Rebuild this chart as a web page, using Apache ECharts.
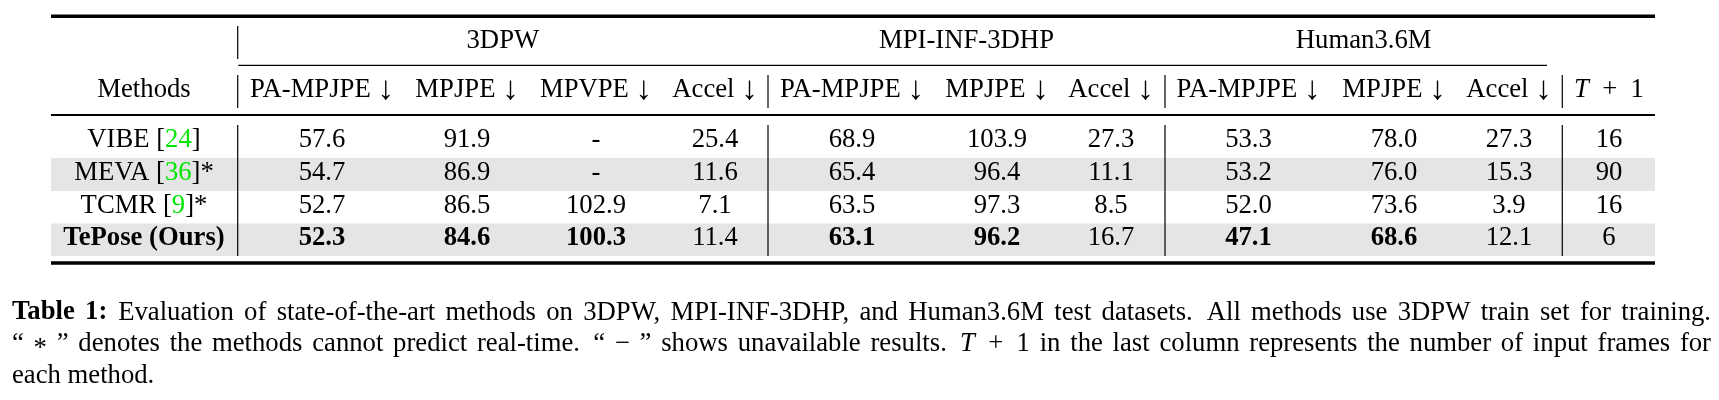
<!DOCTYPE html>
<html><head><meta charset="utf-8">
<script src="https://cdn.jsdelivr.net/npm/echarts@6/dist/echarts.min.js"></script>
<style>html,body{margin:0;padding:0;background:#fff;}#c{width:1719px;height:400px;}</style>
</head><body><div id="c"></div>
<script>
// ---------------- data ----------------
const datasets = ['3DPW', 'MPI-INF-3DHP', 'Human3.6M'];
const metricHeaders = ['PA-MPJPE', 'MPJPE', 'MPVPE', 'Accel', 'PA-MPJPE', 'MPJPE', 'Accel', 'PA-MPJPE', 'MPJPE', 'Accel'];
const methods = ['VIBE', 'MEVA', 'TCMR', 'TePose (Ours)'];
const citations = ['24', '36', '9', ''];
const notRealTime = [false, true, true, false];
const oursIndex = 3;
const pw3d_pa = [57.6, 54.7, 52.7, 52.3];
const pw3d_mpjpe = [91.9, 86.9, 86.5, 84.6];
const pw3d_mpvpe = [null, null, 102.9, 100.3];
const pw3d_accel = [25.4, 11.6, 7.1, 11.4];
const mpi_pa = [68.9, 65.4, 63.5, 63.1];
const mpi_mpjpe = [103.9, 96.4, 97.3, 96.2];
const mpi_accel = [27.3, 11.1, 8.5, 16.7];
const h36m_pa = [53.3, 53.2, 52.0, 47.1];
const h36m_mpjpe = [78.0, 76.0, 73.6, 68.6];
const h36m_accel = [27.3, 15.3, 3.9, 12.1];
const inputFrames = [16, 90, 16, 6];
const captionLine1 = 'Evaluation of state-of-the-art methods on 3DPW, MPI-INF-3DHP, and Human3.6M test datasets. All methods use 3DPW train set for training.';
const captionLine2a = 'denotes the methods cannot predict real-time.';
const captionLine2b = 'shows unavailable results.';
const captionLine2c = 'in the last column represents the number of input frames for';
const captionLine3 = 'each method.';

// ---------------- layout / style ----------------
const FAMILY = '"Liberation Serif", "Times New Roman", Times, serif';
const FS = 26.7;
const BASE_OFF = 0.305 * FS;            // canvas 'middle' -> alphabetic baseline
const GREEN = '#00e600';
const BAND = '#e5e5e5';
const TABLE_L = 51, TABLE_R = 1655;
const COL_X = [144, 322, 467, 596, 715, 852, 997, 1111, 1248.5, 1394, 1509, 1609];
const VLINE_X = [237.7, 768, 1165, 1562.3];
const HEAD1_BASE = 49.5, HEAD2_BASE = 98.5;
const ROW_TOP = [125, 158, 191, 223.5, 256];
const ROW_BASE = [148.3, 181.3, 213.8, 246.3];
const CAP_BASE = [320.7, 352.2, 384.5];
const CAP_L = 12, CAP_R = 1711;

const metricCols = [pw3d_pa, pw3d_mpjpe, pw3d_mpvpe, pw3d_accel, mpi_pa, mpi_mpjpe, mpi_accel, h36m_pa, h36m_mpjpe, h36m_accel];

// ---------------- cells ----------------
const cells = [];
datasets.forEach((d, i) => {
  const x = (VLINE_X[i] + VLINE_X[i + 1]) / 2;
  cells.push({ x, base: HEAD1_BASE, text: d });
});
cells.push({ x: COL_X[0], base: HEAD2_BASE, text: 'Methods' });
metricHeaders.forEach((h, i) => cells.push({ x: COL_X[i + 1], base: HEAD2_BASE, text: h + ' {a|↓}', rich: true }));
cells.push({ x: COL_X[11], base: HEAD2_BASE, text: '{i|T}\u2002+\u20021', rich: true });
methods.forEach((m, r) => {
  let t;
  if (citations[r]) t = m + ' [{g|' + citations[r] + '}]' + (notRealTime[r] ? '*' : '');
  else t = m;
  cells.push({ x: COL_X[0], base: ROW_BASE[r], text: t, rich: !!citations[r], bold: r === oursIndex });
  metricCols.forEach((col, c) => {
    const v = col[r];
    const isAccel = metricHeaders[c] === 'Accel';
    const vals = col.filter(a => a != null);
    const best = !isAccel && v != null && v === Math.min.apply(null, vals);
    cells.push({ x: COL_X[c + 1], base: ROW_BASE[r], text: v == null ? '-' : v.toFixed(1), bold: best });
  });
  cells.push({ x: COL_X[11], base: ROW_BASE[r], text: String(inputFrames[r]) });
});

function fontProps(bold, italic, size) {
  return { fontSize: size || FS, fontFamily: FAMILY, fontWeight: bold ? 'bold' : 'normal', fontStyle: italic ? 'italic' : 'normal' };
}

const richStyles = {
  g: Object.assign({ fill: GREEN }, fontProps(false, false)),
  i: Object.assign({ fill: '#000' }, fontProps(false, true)),
  a: Object.assign({ fill: '#000' }, fontProps(false, false, 33))
};

// ---------------- caption (justified) ----------------
const mctx = document.createElement('canvas').getContext('2d');
function fstr(s) { return (s.i ? 'italic ' : '') + (s.b ? 'bold ' : '') + FS + 'px ' + FAMILY; }
function words(str) { return str.split(' ').map(w => [{ t: w }]); }
const capLines = [
  { justify: true, tokens: [[{ t: 'Table', b: 1 }], [{ t: '1:', b: 1, gap: 1.05 }]].concat(words(captionLine1)) },
  { justify: true, tokens: [[{ t: '“' }], [{ t: '*', dy: 5 }], [{ t: '”' }]].concat(words(captionLine2a))
      .concat([[{ t: '“' }], [{ t: '−' }], [{ t: '”' }]]).concat(words(captionLine2b))
      .concat([[{ t: 'T', i: 1 }, { t: '\u2002+\u20021' }]]).concat(words(captionLine2c)) },
  { justify: false, tokens: words(captionLine3) }
];
const graphicEls = [];
capLines.forEach((ln, li) => {
  let sum = 0;
  ln.tokens.forEach(tok => { tok.w = 0; tok.forEach(s => { mctx.font = fstr(s); s.w = mctx.measureText(s.t).width; tok.w += s.w; }); sum += tok.w; });
  const weights = [];
  let wsum = 0;
  for (let k = 0; k < ln.tokens.length - 1; k++) {
    const lastSeg = ln.tokens[k][ln.tokens[k].length - 1];
    const wt = lastSeg.gap || (/[.]$/.test(lastSeg.t) && lastSeg.t.length > 2 ? 1.35 : 1);
    weights.push(wt); wsum += wt;
  }
  mctx.font = fstr({});
  const sp = mctx.measureText(' ').width;
  const unit = ln.justify ? (CAP_R - CAP_L - sum) / wsum : sp;
  let x = CAP_L;
  ln.tokens.forEach((tok, k) => {
    let sx = x;
    tok.forEach(s => {
      graphicEls.push({ type: 'text', x: sx, y: CAP_BASE[li] - BASE_OFF + (s.dy || 0), silent: true,
        style: { text: s.t, font: fstr(s), fill: '#000', align: 'left', verticalAlign: 'middle', textAlign: 'left', textVerticalAlign: 'middle' } });
      sx += s.w;
    });
    x += tok.w + (k < weights.length ? weights[k] * unit : 0);
  });
});

// ---------------- chart ----------------
const chart = echarts.init(document.getElementById('c'), null, { renderer: 'canvas', width: 1719, height: 400 });

function rectFromTo(api, x1, y1, x2, y2, fill) {
  const p1 = api.coord([x1, y1]), p2 = api.coord([x2, y2]);
  return { type: 'rect', shape: { x: Math.min(p1[0], p2[0]), y: Math.min(p1[1], p2[1]), width: Math.abs(p2[0] - p1[0]), height: Math.abs(p2[1] - p1[1]) }, style: { fill } };
}

const shadedRows = methods.map((m, i) => i).filter(i => i % 2 === 1);

const option = {
  animation: false,
  backgroundColor: '#fff',
  grid: { left: 0, right: 0, top: 0, bottom: 0, containLabel: false },
  xAxis: { type: 'value', min: 0, max: 1719, show: false },
  yAxis: { type: 'value', min: 0, max: 400, inverse: true, show: false },
  graphic: graphicEls,
  series: [
    { type: 'custom', z: 1, silent: true, data: shadedRows.map(r => [r]),
      renderItem: (params, api) => {
        const r = api.value(0);
        return rectFromTo(api, TABLE_L, ROW_TOP[r], TABLE_R, ROW_TOP[r + 1], BAND);
      } },
    { type: 'custom', z: 2, silent: true, data: [[0]],
      renderItem: (params, api) => {
        const ch = [];
        const h = (y, w, x1, x2) => ch.push(rectFromTo(api, x1, y - w / 2, x2, y + w / 2, '#000'));
        const v = (x, y1, y2) => ch.push(rectFromTo(api, x - 0.6, y1, x + 0.6, y2, '#000'));
        h(16.3, 3.5, TABLE_L, TABLE_R);
        h(65.3, 1.2, VLINE_X[0] + 0.6, 1547);
        h(115, 2.2, TABLE_L, TABLE_R);
        h(263, 3.3, TABLE_L, TABLE_R);
        v(VLINE_X[0], 26, 59);
        VLINE_X.forEach(x => { v(x, 75, 108); v(x, 125, 256); });
        return { type: 'group', children: ch };
      } },
    { type: 'custom', z: 3, silent: true, data: cells.map((c, i) => [i]),
      renderItem: (params, api) => {
        const c = cells[api.value(0)];
        const p = api.coord([c.x, c.base - BASE_OFF]);
        const st = Object.assign({ text: c.text, fill: '#000', align: 'center', verticalAlign: 'middle', textAlign: 'center', textVerticalAlign: 'middle' }, fontProps(c.bold, false));
        if (c.rich) st.rich = richStyles;
        return { type: 'text', x: p[0], y: p[1], style: st };
      } }
  ]
};
chart.setOption(option);
</script></body></html>
